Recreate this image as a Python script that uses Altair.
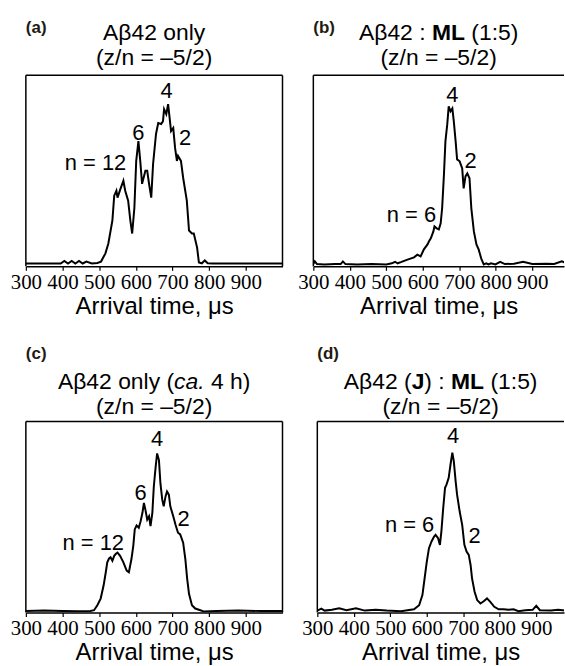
import altair as alt
import pandas as pd

FONT = "Liberation Sans"
TICK_FONT = "Liberation Sans Narrow"
TAG_COLOR = "#221a10"

# ---- arrival-time distributions (normalised intensity, % of frame height) ----
t_a = [300, 330, 360, 395, 405, 415, 425, 435, 445, 455, 465, 480, 495, 505, 517, 525, 536, 541, 547, 550,
       558, 566, 571, 579, 585, 590, 596, 601, 607, 612, 617, 626, 631, 636, 642, 647, 655, 661, 669, 674,
       677, 683, 688, 691, 696, 702, 707, 712, 715, 723, 729, 739, 745, 753, 758, 767, 772, 780, 788, 796,
       810, 850, 900, 950, 1000]
i_a = [1.5, 1.5, 1.5, 1.5, 2.8, 1.5, 2.8, 1.5, 2.8, 1.5, 2.5, 1.5, 1.8, 2.5, 6.8, 12, 24, 37, 39.6, 36,
       40.6, 44.8, 39.6, 34.4, 24, 17.2, 30.7, 55.2, 65.6, 55.2, 43.2, 50, 50, 43.2, 36, 53.6, 69.3, 75, 74.5, 76,
       82.3, 79.7, 84.9, 79.7, 70.8, 72.4, 62, 55.2, 57.8, 55.2, 46.4, 34.4, 18.8, 17.2, 17.2, 9.9, 2, 1.6, 3.1, 1.6,
       1.5, 1.5, 1.5, 1.5, 1.5]

t_b = [300, 304, 310, 330, 360, 375, 381, 388, 420, 460, 500, 515, 524, 531, 540, 558, 576, 585, 594, 603,
       613, 617, 622, 629, 632, 638, 644, 649, 653, 658, 662, 667, 671, 676, 681, 685, 690, 694, 701, 708,
       712, 717, 722, 728, 733, 740, 747, 753, 760, 767, 774, 780, 787, 799, 812, 825, 850, 875, 900, 940,
       960, 981, 1000]
i_b = [1.2, 2.6, 1.2, 1.0, 1.2, 1.2, 2.6, 1.2, 1.0, 1.2, 1.0, 1.6, 2.4, 1.6, 2.2, 3.5, 4.7, 6.1, 5.2, 8.9,
       11.5, 13.1, 14.7, 18.3, 20.9, 19.9, 19.4, 22.5, 30.4, 48.2, 65.4, 74.3, 83.8, 81.2, 82.7, 75.9, 65.4, 56, 55, 51.3,
       40.8, 47.1, 48.7, 46.1, 30.4, 18.3, 11.5, 8.9, 4.2, 1, 1.6, 1, 1.6, 1, 2.4, 1.2, 1.4, 2.4, 1.2, 1.4,
       1.2, 2.6, 1.2]

t_c = [300, 350, 400, 441, 476, 486, 495, 504, 512, 518, 522, 527, 531, 536, 541, 545, 550, 557, 566, 575,
       581, 588, 593, 597, 602, 608, 613, 618, 622, 626, 631, 636, 640, 645, 649, 654, 658, 663, 667, 672,
       676, 681, 685, 690, 694, 702, 708, 715, 721, 729, 735, 740, 745, 753, 762, 776, 786, 820, 880, 940,
       1000]
i_c = [0.8, 1.0, 0.8, 0.7, 0.8, 1.2, 3.8, 7.3, 14.1, 21.1, 26.3, 28.3, 28.9, 27.1, 29.7, 30.6, 31.4, 29.7, 26.3, 21.9,
       21.1, 28, 34.9, 43.5, 45.6, 44.4, 47.8, 52.2, 57.4, 53.9, 48.7, 50.4, 45.2, 52.2, 66, 76.3, 83.3, 79.8, 67.7, 59.1,
       55.6, 60.8, 63.4, 61.7, 55.6, 50.4, 46.1, 41.8, 40.9, 36.6, 28, 17.6, 9.8, 3.8, 2.1, 1.2, 0.5, 0.8, 1.0, 0.8,
       0.8]

t_d = [300, 311, 320, 340, 360, 380, 406, 430, 460, 490, 529, 547, 565, 579, 588, 594, 600, 606, 613, 620,
       624, 631, 636, 640, 645, 650, 654, 660, 665, 670, 674, 679, 683, 690, 697, 703, 709, 715, 720, 724,
       731, 738, 747, 756, 765, 774, 785, 797, 810, 824, 838, 851, 870, 890, 900, 910, 940, 960, 978]
i_d = [1.0, 2.0, 1.0, 1.4, 2.2, 1.2, 2.2, 1.0, 1.4, 1.0, 0.7, 1.2, 1.7, 3.8, 9.1, 17.9, 26.7, 33.7, 37.2, 39.8,
       40.7, 38.9, 35.4, 42.5, 54.7, 65.3, 67, 70.5, 77.5, 83.7, 79.3, 68.8, 61.7, 53, 45.9, 35.4, 31.9, 30.2, 24.9, 17.9,
       10.9, 6.5, 4.7, 5.9, 7.4, 5.6, 3, 1.7, 1.7, 1.4, 1.7, 0.7, 1.2, 1.4, 3.5, 1.2, 1.0, 1.4, 1.0]

# ---- oligomer labels (text, arrival time, height) ----
lab_a, lt_a, li_a = ["n = 12", "6", "4", "2"], [490, 607, 684, 734], [54, 70, 91.7, 67]
lab_b, lt_b, li_b = ["n = 6", "4", "2"], [569, 681, 731], [27, 89.9, 55]
lab_c, lt_c, li_c = ["n = 12", "6", "4", "2"], [484, 613, 658, 730], [36.6, 62.5, 91, 48.7]
lab_d, lt_d, li_d = ["n = 6", "4", "2"], [553, 672, 731], [46, 92.5, 39.8]

TICKS = [300, 400, 500, 600, 700, 800, 900]
AXIS_TITLE = "Arrival time, μs"
CHARGE = "(z/n = –5/2)"

# Arial / Liberation Sans advance widths (1/1000 em) used to lay out mixed-style titles
W_REG = {" ": 278, "(": 333, ")": 333, ".": 278, "/": 278, ":": 278, "=": 584, "–": 556,
         "A": 667, "β": 575, "J": 500, "L": 556, "M": 833, "a": 556, "c": 500, "h": 556,
         "l": 222, "n": 556, "o": 556, "y": 500, "z": 500}
W_BOLD = {"J": 556, "L": 611, "M": 833}

TITLE_SIZE = 23


def text_width(s, size, bold):
    total = 0
    for ch in s:
        if ch.isdigit():
            total += 556
        elif bold and ch in W_BOLD:
            total += W_BOLD[ch]
        else:
            total += W_REG.get(ch, 556)
    return total * size / 1000


ONE = pd.DataFrame({"k": [0]})


def title_line(segments, center, y, size):
    """Segments are (text, bold, italic); pieces are placed left to right, centred as a whole."""
    total = sum(text_width(s, size, b) for s, b, _ in segments)
    x = center - total / 2
    layers = []
    for s, b, it in segments:
        w = text_width(s, size, b)
        if s.strip():
            layers.append(
                alt.Chart(ONE).mark_text(
                    text=s, align="left", baseline="middle", font=FONT, fontSize=size,
                    fontWeight="bold" if b else "normal", fontStyle="italic" if it else "normal",
                    color="black",
                ).encode(x=alt.value(x), y=alt.value(y))
            )
        x += w
    return layers


def panel(t, inten, lab, lt, li, width, xmax, tag, line1, yoff, right_border):
    height = 192
    data = pd.DataFrame({"t": t, "i": inten})
    x = alt.X("t:Q", scale=alt.Scale(domain=[300, xmax], nice=False, zero=False),
              axis=alt.Axis(values=TICKS, title=AXIS_TITLE, grid=False, labelFlush=False,
                            labelOverlap=False, tickSize=4, tickWidth=1.2, tickColor="black",
                            domainColor="black", domainWidth=1.5, labelFont=TICK_FONT, labelFontSize=21,
                            labelColor="black", labelPadding=1, titleFont=FONT, titleFontSize=24,
                            titleFontWeight="normal", titleColor="black", titlePadding=2))
    y = alt.Y("i:Q", scale=alt.Scale(domain=[0, 100], nice=False), axis=None)
    curve = alt.Chart(data).mark_line(color="black", strokeWidth=2, clip=True).encode(x=x, y=y)
    peaks = alt.Chart(pd.DataFrame({"t": lt, "i": li, "label": lab})).mark_text(
        font=FONT, fontSize=22, color="black", baseline="middle"
    ).encode(x="t:Q", y="i:Q", text="label:N")

    rule = dict(color="black", strokeWidth=1.5)
    layers = [
        curve,
        peaks,
        alt.Chart(ONE).mark_rule(**rule).encode(x=alt.value(0), x2=alt.value(width), y=alt.value(0)),
        alt.Chart(ONE).mark_rule(**rule).encode(x=alt.value(0), y=alt.value(0), y2=alt.value(height)),
    ]
    if right_border:
        layers.append(alt.Chart(ONE).mark_rule(**rule).encode(
            x=alt.value(width), y=alt.value(0), y2=alt.value(height)))
    layers.append(alt.Chart(ONE).mark_text(
        text=tag, align="left", baseline="middle", font=FONT, fontSize=17,
        fontWeight="bold", color=TAG_COLOR).encode(x=alt.value(0), y=alt.value(yoff[0])))
    layers += title_line(line1, width / 2, yoff[1], TITLE_SIZE)
    layers += title_line([(CHARGE, False, False)], width / 2, yoff[2], TITLE_SIZE)
    return alt.layer(*layers).properties(width=width, height=height)


TOP = (-48, -43, -17)
BOTTOM = (-68, -40, -15)

pa = panel(t_a, i_a, lab_a, lt_a, li_a, 258, 1000, "(a)",
           [("Aβ42 only", False, False)], TOP, True)
pb = panel(t_b, i_b, lab_b, lt_b, li_b, 252, 987, "(b)",
           [("Aβ42 :", False, False), (" ", False, False), ("ML", True, False),
            (" ", False, False), ("(1:5)", False, False)], TOP, False)
pc = panel(t_c, i_c, lab_c, lt_c, li_c, 258, 1000, "(c)",
           [("Aβ42 only (", False, False), ("ca.", False, True), (" ", False, False),
            ("4 h)", False, False)], BOTTOM, True)
pd_ = panel(t_d, i_d, lab_d, lt_d, li_d, 248, 976, "(d)",
            [("Aβ42 (", False, False), ("J", True, False), (") :", False, False), (" ", False, False),
             ("ML", True, False), (" ", False, False), ("(1:5)", False, False)], BOTTOM, False)

chart = alt.vconcat(
    alt.hconcat(pa, pb, spacing=14),
    alt.hconcat(pc, pd_, spacing=18),
    spacing=27,
).properties(
    padding={"left": 10, "top": 17, "right": 0, "bottom": 0}
).configure(background="white").configure_view(stroke=None)

chart.save("out.html", embed_options={"renderer": "svg", "actions": False})
